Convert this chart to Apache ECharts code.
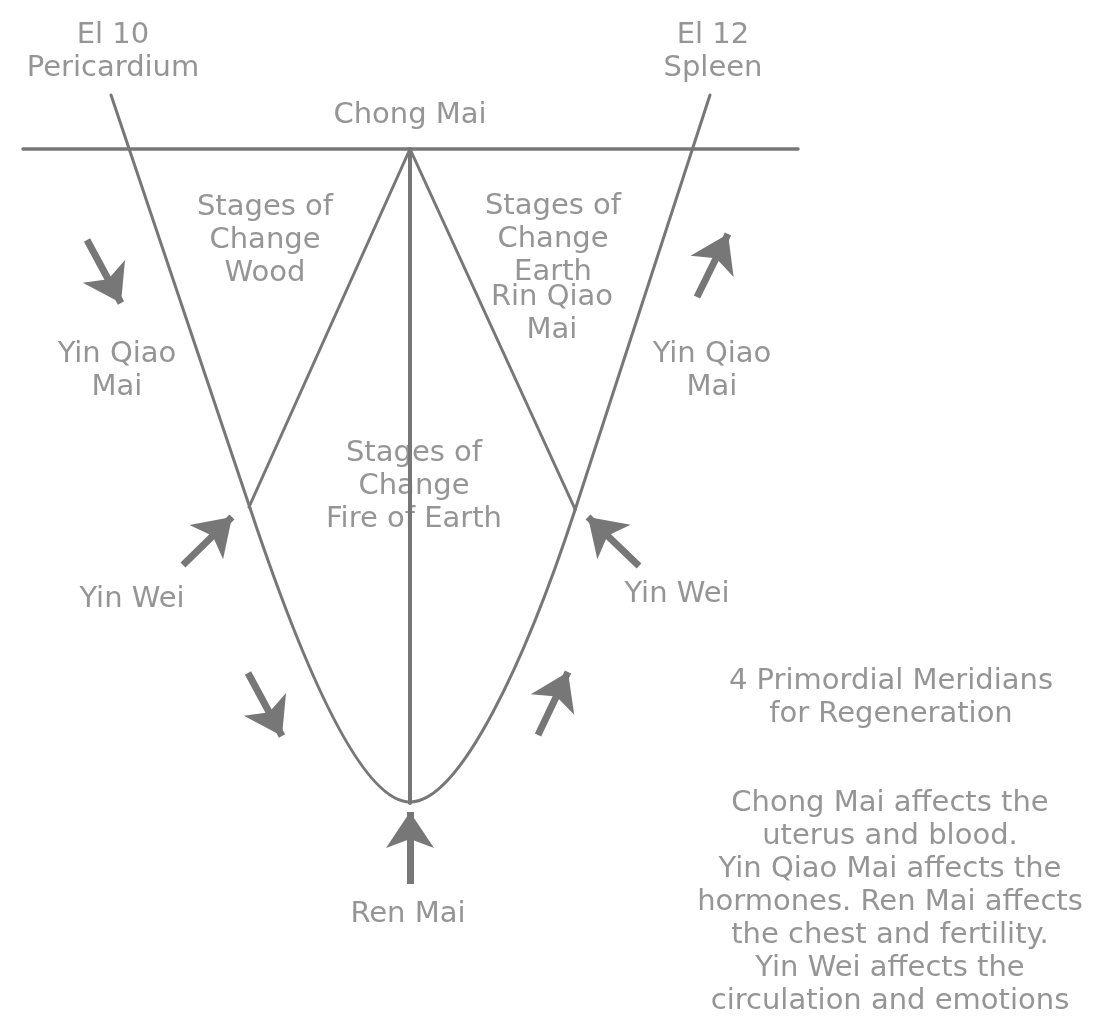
<!DOCTYPE html>
<html>
<head>
<meta charset="utf-8">
<script src="https://cdn.jsdelivr.net/npm/echarts@6/dist/echarts.min.js"></script>
<style>
  html, body { margin: 0; padding: 0; background: #ffffff; }
  #chart { width: 1109px; height: 1017px; }
</style>
</head>
<body>
<div id="chart"></div>
<script>
// ---- Diagram data (image coordinates) ----
var chongMaiLine   = [[23, 149], [798, 149]];
var centerLine     = [[410, 149], [410, 803]];
var woodEdge       = [[410, 149], [249, 507]];
var earthEdge      = [[410, 149], [575, 509]];
var leftStraight   = [[111, 95], [250, 508]];
var rightStraight  = [[710, 95], [575, 510]];
// the U-shaped bottom: cubic Bezier segments [start, control1, control2, end]
var bowlLeft       = [[250, 508], [300, 658], [360, 802], [410, 802]];
var bowlRight      = [[410, 802], [460, 802], [526, 660], [575, 510]];

// arrows: [tail, tip]
var arrowTails = [[87, 240], [183, 565], [248, 673], [538, 735], [410, 884], [639, 566], [697, 297]];
var arrowTips  = [[121, 303], [232, 517], [282, 736], [568, 672], [410, 812], [588, 517], [728, 234]];

// labels: text and centre position
var labelTexts = [
  'El 10\nPericardium',
  'El 12\nSpleen',
  'Chong Mai',
  'Stages of\nChange\nWood',
  'Stages of\nChange\nEarth',
  'Rin Qiao\nMai',
  'Yin Qiao\nMai',
  'Yin Qiao\nMai',
  'Stages of\nChange\nFire of Earth',
  'Yin Wei',
  'Yin Wei',
  'Ren Mai',
  '4 Primordial Meridians\nfor Regeneration',
  'Chong Mai affects the\nuterus and blood.\nYin Qiao Mai affects the\nhormones. Ren Mai affects\nthe chest and fertility.\nYin Wei affects the\ncirculation and emotions'
];
var labelCenters = [
  [113, 52], [713, 52], [410, 115], [265, 240], [553, 239], [552, 314],
  [117, 371], [712, 371], [414, 486], [132, 599], [677, 594], [408, 914],
  [891, 698], [890, 902]
];

// ---- Build chart ----
var LINE_COLOR = '#777777';
var TEXT_COLOR = '#7b7b7b';
var ARROW_SIZE = 36;

function lineSeries(data, width) {
  return {
    type: 'line',
    data: data,
    symbol: 'none',
    silent: true,
    z: 5,
    lineStyle: { color: LINE_COLOR, width: width, cap: 'round', join: 'round' }
  };
}

var bowlSegments = [bowlLeft, bowlRight];

var arrowData = arrowTails.map(function (tail, i) {
  return { coords: [tail, arrowTips[i]] };
});

var labelData = labelTexts.map(function (t, i) {
  return { name: t, value: labelCenters[i] };
});

var chart = echarts.init(document.getElementById('chart'));
chart.setOption({
  animation: false,
  backgroundColor: '#ffffff',
  grid: { left: 0, right: 0, top: 0, bottom: 0 },
  xAxis: { type: 'value', min: 0, max: 1109, show: false },
  yAxis: { type: 'value', min: 0, max: 1017, inverse: true, show: false },
  series: [
    {
      type: 'scatter',
      data: labelData,
      symbol: 'circle',
      symbolSize: 1,
      silent: true,
      z: 2,
      itemStyle: { color: 'rgba(0,0,0,0)' },
      label: {
        show: true,
        position: 'inside',
        formatter: '{b}',
        align: 'center',
        verticalAlign: 'middle',
        fontFamily: 'DejaVu Sans',
        fontSize: 29,
        lineHeight: 33,
        color: TEXT_COLOR
      }
    },
    lineSeries(chongMaiLine, 3.5),
    lineSeries(centerLine, 4),
    lineSeries(woodEdge, 3),
    lineSeries(earthEdge, 3),
    lineSeries(leftStraight, 3),
    lineSeries(rightStraight, 3),
    {
      type: 'custom',
      coordinateSystem: 'cartesian2d',
      silent: true,
      z: 5,
      data: bowlSegments.map(function (seg, i) { return [seg[0][0], seg[0][1], i]; }),
      renderItem: function (params, api) {
        var seg = bowlSegments[params.dataIndex];
        var p = seg.map(function (pt) { return api.coord(pt); });
        var d = 'M' + p[0][0] + ' ' + p[0][1] +
                ' C' + p[1][0] + ' ' + p[1][1] + ' ' + p[2][0] + ' ' + p[2][1] + ' ' + p[3][0] + ' ' + p[3][1];
        return {
          type: 'path',
          shape: { pathData: d },
          style: { stroke: LINE_COLOR, lineWidth: 3, fill: null, lineCap: 'round' }
        };
      }
    },
    {
      type: 'lines',
      coordinateSystem: 'cartesian2d',
      data: arrowData,
      silent: true,
      z: 6,
      symbol: ['none', 'arrow'],
      symbolSize: [0, ARROW_SIZE],
      lineStyle: { color: LINE_COLOR, width: 7, opacity: 1, curveness: 0 }
    }
  ]
});
</script>
</body>
</html>
